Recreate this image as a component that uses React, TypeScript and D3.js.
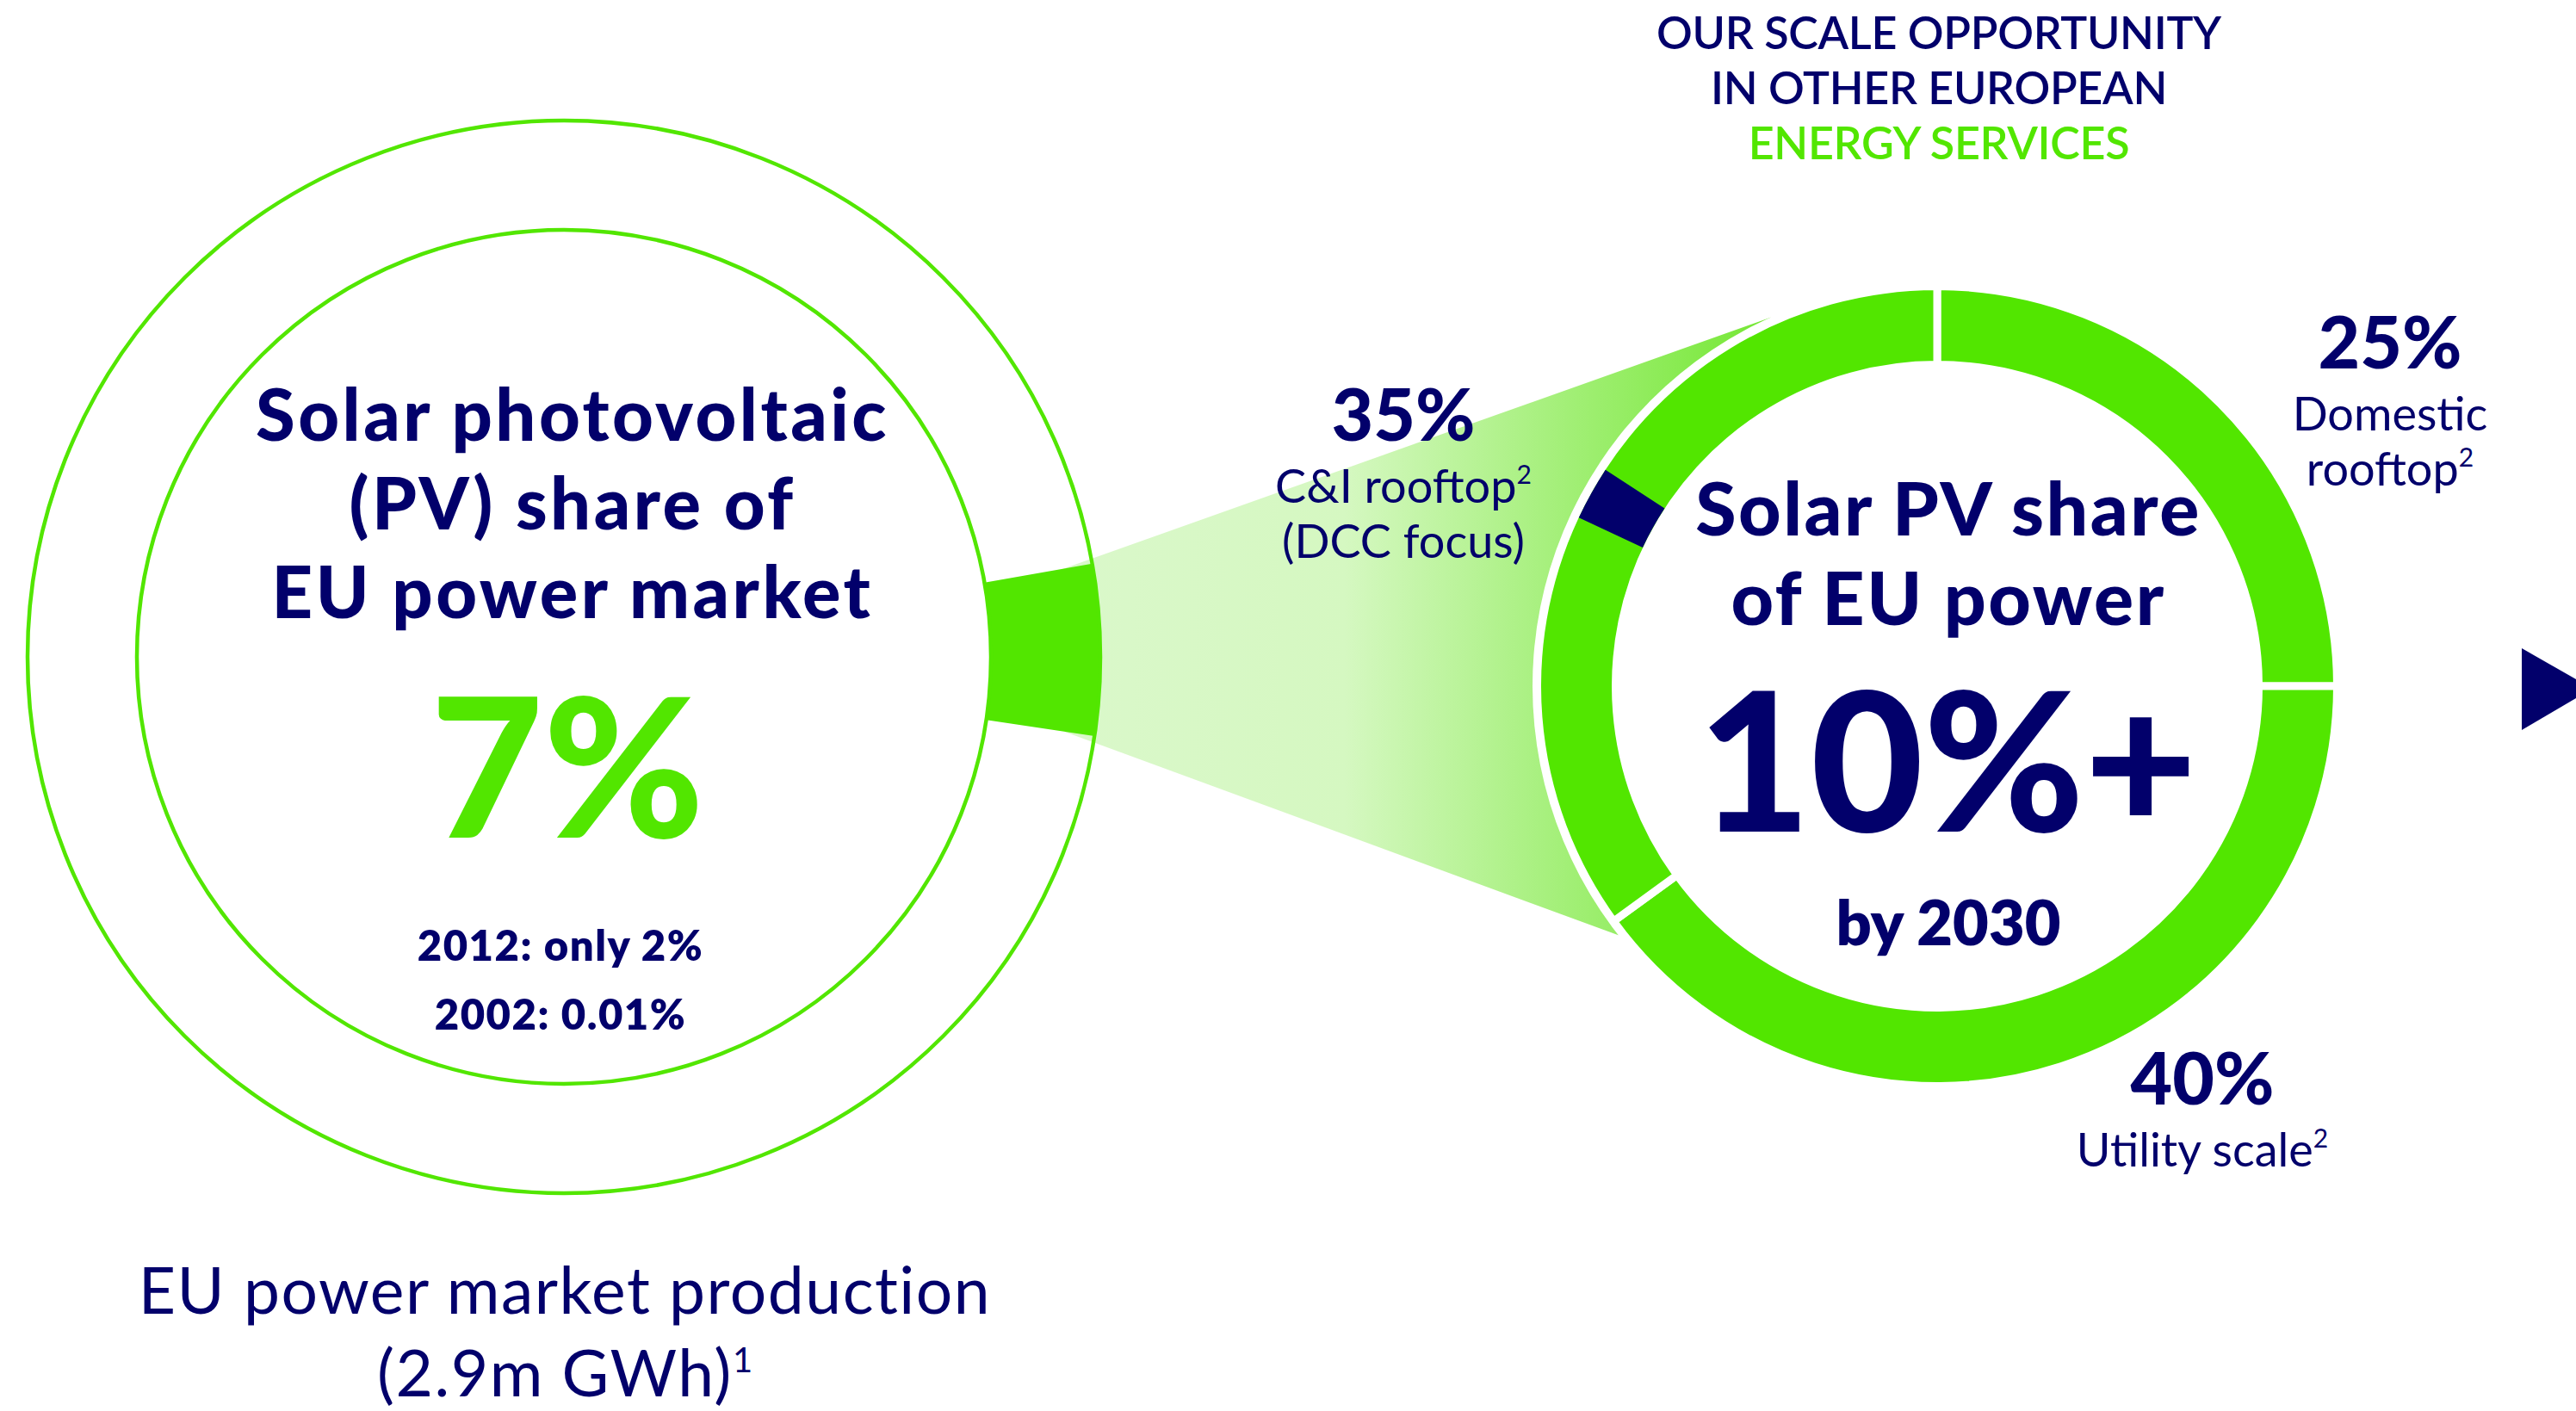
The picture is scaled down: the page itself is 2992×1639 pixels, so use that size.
import React from 'react';
import * as d3 from 'd3';

// ---------- data ----------
const pvShareToday = '7%';
const pvHistoryYears = ['2012', '2002'];
const pvHistoryValues = ['only 2%', '0.01%'];
const leftTitleLines = ['Solar photovoltaic', '(PV) share of', 'EU power market'];
const marketLines = ['EU power market production', '(2.9m GWh)'];
const headerLines = ['OUR SCALE OPPORTUNITY', 'IN OTHER EUROPEAN', 'ENERGY SERVICES'];
const rightTitleLines = ['Solar PV share', 'of EU power'];
const target2030 = '10%+';
const targetYear = 'by 2030';

const segmentNames = ['Domestic rooftop', 'Utility scale', 'C&I rooftop'];
const segmentValues = [25, 40, 35];
const segmentLabelLines = [['Domestic', 'rooftop'], ['Utility scale'], ['C&I rooftop', '(DCC focus)']];
// C&I rooftop split: share before the DCC focus band, DCC focus band, rest
const ciParts = ['C&I other', 'DCC focus', 'C&I other'];
const ciPartValues = [17.0, 2.2, 15.8];

// ---------- style / layout ----------
const W = 2992;
const H = 1639;
const NAVY = '#02006b';
const GREEN = '#52e600';
const FONT = 'Lato, "Open Sans", sans-serif';

const L = { cx: 655, cy: 763, rOuter: 623, rInner: 496 };
const WEDGE = { start: 80, end: 98.5 }; // degrees
const R = { cx: 2250, cy: 797, rOuter: 460, rInner: 378, mask: 470 };
const FUNNEL = { top: 335.7, bottom: 232 };

const labelPos = [
  { x: 2776, y: 428 },
  { x: 2558, y: 1283 },
  { x: 1630, y: 512 },
];

const rad = (deg: number) => (deg * Math.PI) / 180;
const polar = (cx: number, cy: number, r: number, deg: number): [number, number] => [
  cx + r * Math.sin(rad(deg)),
  cy - r * Math.cos(rad(deg)),
];

export default function App() {
  // right donut
  const pie = d3.pie<number>().sort(null).value((d) => d);
  const arcs = pie(segmentValues);
  const arcGen = d3.arc<d3.PieArcDatum<number>>()
    .innerRadius(R.rInner - 4.5)
    .outerRadius(R.rOuter + 4.5);

  const ciArc = arcs[2];
  const ciScale = d3.scaleLinear().domain([0, d3.sum(ciPartValues)]).range([ciArc.startAngle, ciArc.endAngle]);
  const ciCum = d3.cumsum(ciPartValues);
  const dccStart = ciScale(ciCum[0]);
  const dccEnd = ciScale(ciCum[1]);
  const dccPath = d3.arc()({
    innerRadius: R.rInner,
    outerRadius: R.rOuter,
    startAngle: dccStart,
    endAngle: dccEnd,
  } as any) as string;

  // left wedge
  const wedgePath = d3.arc()({
    innerRadius: L.rInner,
    outerRadius: L.rOuter,
    startAngle: rad(WEDGE.start),
    endAngle: rad(WEDGE.end),
  } as any) as string;

  // funnel
  const fl1 = polar(L.cx, L.cy, L.rOuter - 35, WEDGE.start);
  const fl2 = polar(L.cx, L.cy, L.rOuter - 35, WEDGE.end);
  const fr1 = polar(R.cx, R.cy, R.mask, FUNNEL.top);
  const fr2 = polar(R.cx, R.cy, R.mask, FUNNEL.bottom);
  const funnelPath = d3.line()([fl1, fr1, [R.cx, R.cy], fr2, fl2]) + 'Z';

  const sup = (t: string, size: number, dy: number) => (
    <tspan fontSize={size} dy={-dy} letterSpacing={0}>{t}</tspan>
  );

  return (
    <div style={{ position: 'absolute', left: 0, top: 0 }}>
      <svg width={W} height={H} viewBox={`0 0 ${W} ${H}`} style={{ display: 'block', background: '#fff' }} fontFamily={FONT}>
        <defs>
          <linearGradient id="funnelGrad" gradientUnits="userSpaceOnUse" x1={1245} y1={0} x2={2057} y2={0}>
            <stop offset="0" stopColor="#daf8ca" />
            <stop offset="0.39" stopColor="#d5f8c1" />
            <stop offset="1" stopColor="#74e733" />
          </linearGradient>
        </defs>

        {/* funnel */}
        <path d={funnelPath} fill="url(#funnelGrad)" />

        {/* left circle */}
        <g transform={`translate(${L.cx},${L.cy})`}>
          <path d={wedgePath} fill={GREEN} />
          <circle r={L.rOuter} fill="none" stroke={GREEN} strokeWidth={4.5} />
          <circle r={L.rInner} fill="none" stroke={GREEN} strokeWidth={4.5} />
        </g>

        {/* right donut */}
        <g transform={`translate(${R.cx},${R.cy})`}>
          <circle r={R.mask} fill="#fff" />
          {arcs.map((a, i) => (
            <path key={segmentNames[i]} d={arcGen(a) as string} fill={GREEN} stroke="#fff" strokeWidth={9} strokeLinejoin="miter" />
          ))}
          <path d={dccPath} fill={NAVY} />
        </g>

        {/* left texts */}
        <g fill={NAVY} textAnchor="middle" fontWeight={900}>
          {leftTitleLines.map((t, i) => (
            <text key={t} x={665} y={512 + i * 103} fontSize={83} letterSpacing={3.5}>{t}</text>
          ))}
          <text x={659} y={973} fontSize={226} fill={GREEN}>{pvShareToday}</text>
          {pvHistoryYears.map((y, i) => (
            <text key={y} x={651} y={1116 + i * 80} fontSize={49} fontWeight={800} letterSpacing={1.5}>
              {`${y}: ${pvHistoryValues[i]}`}
            </text>
          ))}
        </g>
        <g fill={NAVY} textAnchor="middle" fontWeight={400} fontSize={75} letterSpacing={1.5}>
          <text x={656} y={1526}>{marketLines[0]}</text>
          <text x={656} y={1622}>{marketLines[1]}{sup('1', 40, 28)}</text>
        </g>

        {/* header */}
        <g textAnchor="middle" fontWeight={600} fontSize={52}>
          {headerLines.map((t, i) => (
            <text key={t} x={2252} y={57 + i * 64} fill={i === 2 ? GREEN : NAVY} letterSpacing={-0.3}>{t}</text>
          ))}
        </g>

        {/* right center texts */}
        <g fill={NAVY} textAnchor="middle" fontWeight={900}>
          {rightTitleLines.map((t, i) => (
            <text key={t} x={2263} y={622 + i * 104} fontSize={86} letterSpacing={2.5}>{t}</text>
          ))}
          <text x={2262} y={966} fontSize={226}>{target2030}</text>
          <text x={2263} y={1098} fontSize={72} fontWeight={800}>{targetYear}</text>
        </g>

        {/* segment labels */}
        {segmentValues.map((v, i) => (
          <g key={segmentNames[i]} fill={NAVY} textAnchor="middle">
            <text x={labelPos[i].x} y={labelPos[i].y} fontSize={84} fontWeight={900}>{`${v}%`}</text>
            {segmentLabelLines[i].map((t, j) => (
              <text key={t} x={labelPos[i].x} y={labelPos[i].y + 72 + j * 64} fontSize={54} fontWeight={400}>
                {t}
                {j === 0 && segmentLabelLines[i].length === 1 ? sup('2', 30, 22) : null}
                {j === 1 && i === 0 ? sup('2', 30, 22) : null}
                {j === 0 && i === 2 ? sup('2', 30, 22) : null}
              </text>
            ))}
          </g>
        ))}

        {/* next arrow */}
        <path d={d3.line()([[2929, 753], [3011, 800], [2929, 848]]) + 'Z'} fill={NAVY} />
      </svg>
    </div>
  );
}
